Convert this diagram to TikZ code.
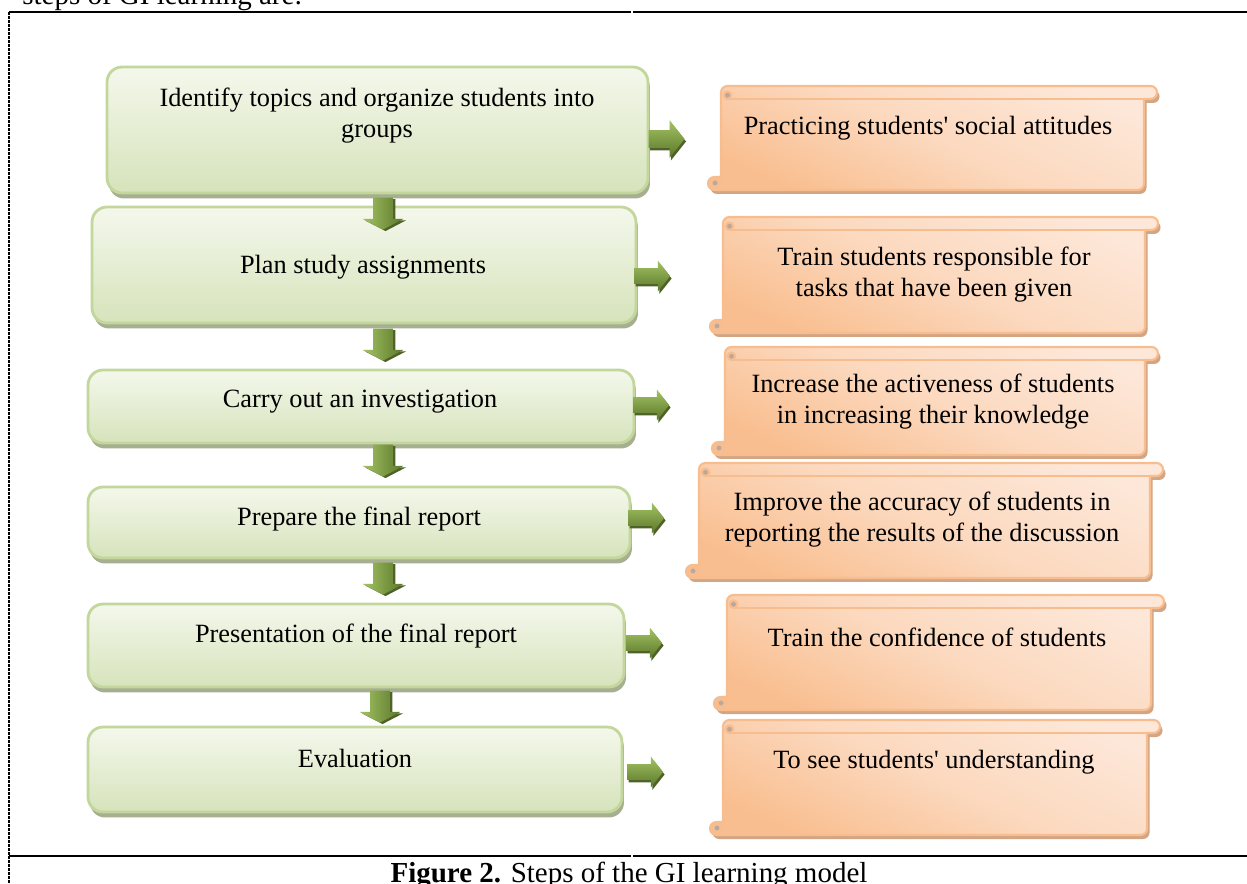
\documentclass[tikz,border=0pt]{standalone}
\usepackage{fontspec}
\setmainfont{Liberation Serif}
\usetikzlibrary{shapes.arrows,shadows}

\definecolor{boxline}{HTML}{C3D69B}
\definecolor{boxtop}{HTML}{F4F8EC}
\definecolor{boxbot}{HTML}{D6E3BB}
\definecolor{boxshade}{HTML}{A7AF91}
\definecolor{arrlight}{HTML}{A4C263}
\definecolor{arrdark}{HTML}{5A782A}
\definecolor{arrshade}{HTML}{4F6228}
\definecolor{scrline}{HTML}{F8BD8E}
\definecolor{scrdark}{HTML}{F9BE8F}
\definecolor{scrlight}{HTML}{FDE7D8}
\definecolor{scrshade}{HTML}{D2A584}
\definecolor{scrcurl}{HTML}{B9A89D}

\tikzset{
  greenbox/.style={draw=boxline, line width=1.6pt, rounded corners=0.3cm,
    top color=boxtop, bottom color=boxbot,
    drop shadow={shadow xshift=0.04cm, shadow yshift=-0.11cm, fill=boxshade, opacity=1}},
  txt/.style={align=center, inner sep=0pt, font=\fontsize{15}{17.6}\selectfont},
  rightarr/.style={single arrow, draw=none, inner sep=0.15cm, minimum height=0.72cm,
    single arrow head extend=0.15cm, single arrow tip angle=103,
    top color=arrlight, bottom color=arrdark,
    drop shadow={shadow xshift=0.03cm, shadow yshift=-0.05cm, fill=arrshade, opacity=1}},
  downarr/.style={single arrow, shape border rotate=270, draw=none, inner sep=0.19cm,
    minimum height=0.64cm, single arrow head extend=0.21cm,
    single arrow tip angle=125, left color=arrlight, right color=arrdark,
    drop shadow={shadow xshift=0.05cm, shadow yshift=-0.03cm, fill=arrshade, opacity=1}},
  scrollbody/.style={draw=scrline, line width=1.2pt, line join=round,
    top color=scrlight, bottom color=scrdark, middle color=scrlight!65!scrdark,
    shading angle=-25,
    drop shadow={shadow xshift=0.05cm, shadow yshift=-0.08cm, fill=scrshade, opacity=1}},
  scrolldetail/.style={draw=scrline, line width=1.2pt},
}

% scroll panel: left, top, right, bottom (pixels from top left)
\newcommand{\scrollpanel}[4]{%
  \draw[scrollbody] ({#1+13},{-#4+13}) -- ({#1+13},{-#2-6.5})
    arc[start angle=180, end angle=90, radius=6.5] -- ({#3-6.5},{-#2})
    arc[start angle=90, end angle=-90, radius=6.5] -- ({#3-13},{-#2-13})
    -- ({#3-13},{-#4+6.5}) arc[start angle=0, end angle=-90, radius=6.5]
    -- ({#1+6.5},{-#4}) arc[start angle=270, end angle=90, radius=6.5] -- cycle;
  \draw[scrolldetail] ({#1+19.5},{-#2-13}) -- ({#3-13},{-#2-13});
  \draw[scrolldetail, fill=scrcurl] ({#1+19.5},{-#2-9.25}) circle[radius=3.75];
  \draw[scrolldetail] ({#1+13},{-#4+13}) -- ({#1+13},{-#4+6.5});
  \draw[scrolldetail, fill=scrcurl] ({#1+7},{-#4+7}) circle[radius=3.75];
}

\begin{document}
\begin{tikzpicture}[x=0.02cm, y=0.02cm]
    \useasboundingbox (0,0) rectangle (1247,-884);
    \clip (0,0) rectangle (1247,-884);
    \fill[white] (0,0) rectangle (1247,-884);

    % page text and table rules
    \node[anchor=base west, inner sep=0pt, font=\fontsize{16.5}{19}\selectfont] (lead) at (22,-5) {steps of GI learning are:};
    \draw[line width=1.6pt] (9,-12) -- (631,-12);
    \draw[line width=1.6pt] (633,-12) -- (1247,-12);
    \draw[line width=1.6pt] (9,-856) -- (631,-856);
    \draw[line width=1.6pt] (633,-856) -- (1247,-856);
    \draw[line width=1.1pt, dash pattern=on 0.06cm off 0.02cm] (9,-12) -- (9,-884);
    \node[anchor=base, inner sep=0pt, font=\fontsize{16.5}{19}\selectfont] (cap) at (629,-882) {\textbf{Figure 2.} Steps of the GI learning model};

    % steps
    \node[greenbox, minimum width=10.82cm, minimum height=2.52cm] (s1) at (377.5,-130) {};
    \node[greenbox, minimum width=10.88cm, minimum height=2.32cm] (s2) at (364,-265) {};
    \node[greenbox, minimum width=10.92cm, minimum height=1.46cm] (s3) at (361,-406.5) {};
    \node[greenbox, minimum width=10.84cm, minimum height=1.42cm] (s4) at (359,-522.5) {};
    \node[greenbox, minimum width=10.72cm, minimum height=1.66cm] (s5) at (356,-645.5) {};
    \node[greenbox, minimum width=10.68cm, minimum height=1.70cm] (s6) at (355,-769.5) {};

    \node[txt] (s1t) at (377,-116) {Identify topics and organize students into\\groups};
    \node[txt] (s2t) at (363,-267) {Plan study assignments};
    \node[txt] (s3t) at (360,-402) {Carry out an investigation};
    \node[txt] (s4t) at (359,-519) {Prepare the final report};
    \node[txt] (s5t) at (356,-636) {Presentation of the final report};
    \node[txt] (s6t) at (355,-758) {Evaluation};

    % arrows between steps
    \node[downarr] (d1) at (383,-211) {};
    \node[downarr] (d2) at (383,-342) {};
    \node[downarr] (d3) at (383,-458) {};
    \node[downarr] (d4) at (383,-576) {};
    \node[downarr] (d5) at (380,-704) {};

    % arrows to goals
    \node[rightarr, inner sep=0.17cm, single arrow head extend=0.2cm] (r1) at (663,-139) {};
    \node[rightarr] (r2) at (649,-276) {};
    \node[rightarr] (r3) at (648,-405) {};
    \node[rightarr] (r4) at (643,-518) {};
    \node[rightarr] (r5) at (641,-643) {};
    \node[rightarr] (r6) at (642,-772) {};

    % goals
    \scrollpanel{708}{86}{1157}{190}
    \scrollpanel{710}{217}{1158}{333}
    \scrollpanel{712}{347}{1158}{455}
    \scrollpanel{686}{463}{1163}{578}
    \scrollpanel{714}{595}{1164}{710}
    \scrollpanel{710}{720}{1160}{835}

    \node[txt] (g1) at (928,-128) {Practicing students\textquotesingle\ social attitudes};
    \node[txt] (g2) at (934,-275) {Train students responsible for\\tasks that have been given};
    \node[txt] (g3) at (933,-402) {Increase the activeness of students\\in increasing their knowledge};
    \node[txt] (g4) at (922,-520) {Improve the accuracy of students in\\reporting the results of the discussion};
    \node[txt] (g5) at (937,-637) {Train the confidence of students};
    \node[txt] (g6) at (934,-762) {To see students\textquotesingle\ understanding};
\end{tikzpicture}
\end{document}
